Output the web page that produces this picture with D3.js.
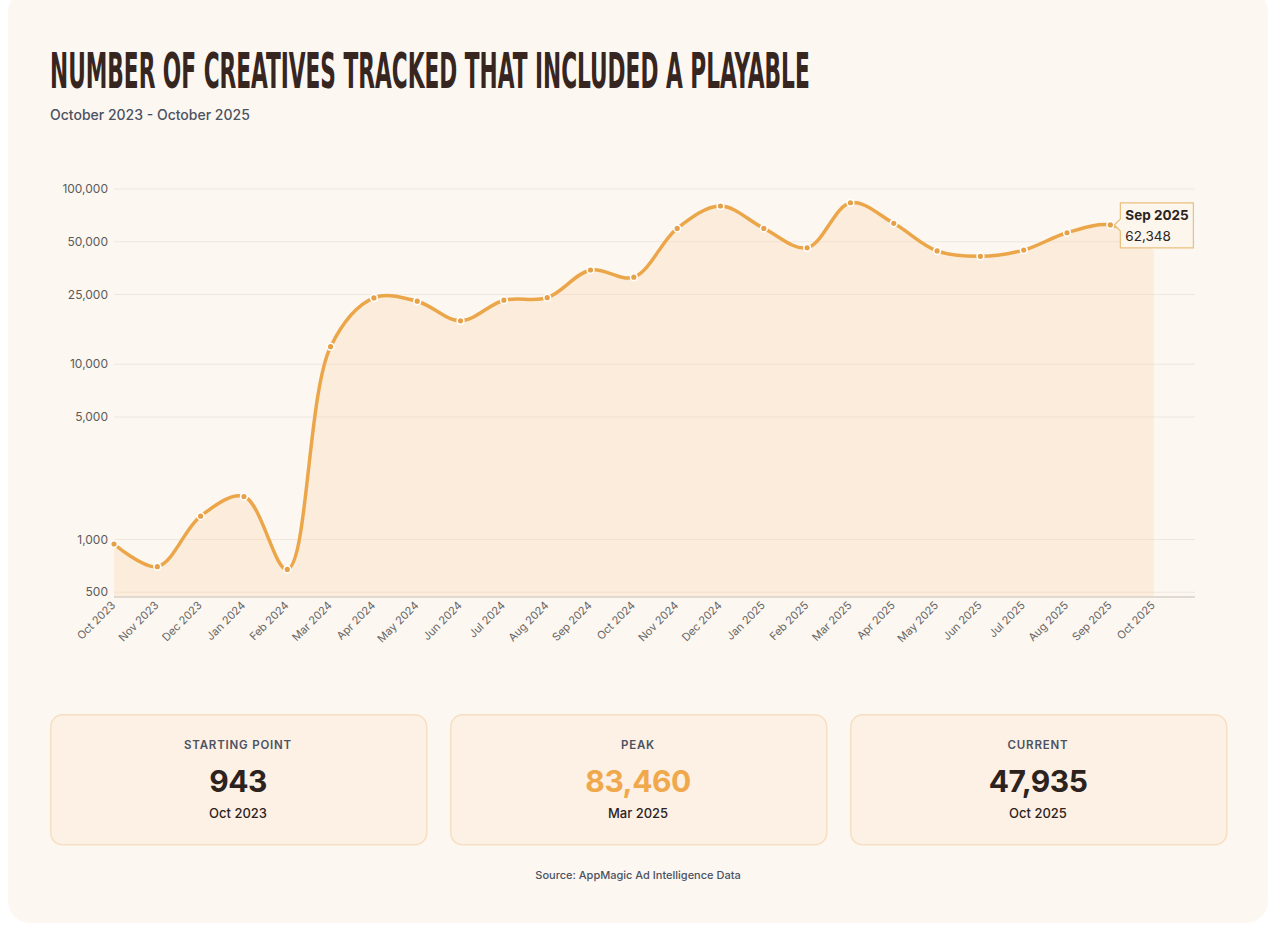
<!DOCTYPE html>
<html>
<head>
<meta charset="utf-8">
<script src="https://cdn.jsdelivr.net/npm/d3@7"></script>
<style>
  body { margin: 0; background: #ffffff; }
  svg { display: block; font-family: Inter, "Noto Sans", sans-serif; }
</style>
</head>
<body>
<script>
// months on the x axis
var months = ["Oct 2023","Nov 2023","Dec 2023","Jan 2024","Feb 2024","Mar 2024","Apr 2024","May 2024",
  "Jun 2024","Jul 2024","Aug 2024","Sep 2024","Oct 2024","Nov 2024","Dec 2024","Jan 2025",
  "Feb 2025","Mar 2025","Apr 2025","May 2025","Jun 2025","Jul 2025","Aug 2025","Sep 2025","Oct 2025"];

// creatives with a playable, per month
var creatives = [943, 700, 1360, 1760, 675, 12600, 23900, 22900,
  17700, 23200, 24000, 34500, 31400, 59600, 80000, 59600,
  46200, 83460, 63700, 44300, 41300, 44800, 56300, 62348, 47935];

var yTicks = [500, 1000, 5000, 10000, 25000, 50000, 100000];

var cardTitles = ["STARTING POINT", "PEAK", "CURRENT"];
var tooltipIndex = 23;

var width = 1280, height = 931;
var fmt = d3.format(",");

var svg = d3.select("body").append("svg").attr("width", width).attr("height", height);

// page card
svg.append("rect").attr("x", 8).attr("y", -10).attr("width", 1260).attr("height", 933)
  .attr("rx", 22).attr("fill", "#fcf7f1");

// title, squeezed to the reference width
var titleG = svg.append("g");
var title = titleG.append("text").attr("x", 0).attr("y", 0)
  .style("font-family", "'Liberation Sans Narrow', 'DejaVu Sans Condensed', sans-serif")
  .style("font-weight", "bold").style("font-size", "50px").attr("fill", "#36261f")
  .text("NUMBER OF CREATIVES TRACKED THAT INCLUDED A PLAYABLE");
var tw = title.node().getComputedTextLength();
titleG.attr("transform", "translate(50,88) scale(" + (760 / tw) + ",1)");

svg.append("text").attr("x", 50).attr("y", 120)
  .style("font-size", "14px").style("font-weight", 500).attr("fill", "#4b5262")
  .text("October 2023 - October 2025");

// scales
var x = d3.scaleLinear().domain([0, months.length]).range([114, 1197]);
var y = d3.scaleLog().domain([470, 100000]).range([597, 189]);

var chart = svg.append("g");

// gridlines
chart.selectAll(".grid").data(yTicks).enter().append("line")
  .attr("x1", 114).attr("x2", 1195)
  .attr("y1", function(d){ return y(d); }).attr("y2", function(d){ return y(d); })
  .attr("stroke", "#efe7de").attr("stroke-width", 1);

// y labels
chart.selectAll(".ylab").data(yTicks).enter().append("text")
  .attr("x", 108).attr("y", function(d){ return y(d); }).attr("dy", "0.35em")
  .attr("text-anchor", "end").style("font-size", "12px").attr("fill", "#5b5b5b")
  .text(function(d){ return fmt(d); });

// area + line
var area = d3.area()
  .x(function(d, i){ return x(i); })
  .y0(597)
  .y1(function(d){ return y(d); })
  .curve(d3.curveCatmullRom.alpha(0.5));

var line = d3.line()
  .x(function(d, i){ return x(i); })
  .y(function(d){ return y(d); })
  .curve(d3.curveCatmullRom.alpha(0.5));

chart.append("path").datum(creatives).attr("d", area).attr("fill", "#f7d3a8").attr("fill-opacity", 0.3);

// x axis line
chart.append("line").attr("x1", 114).attr("x2", 1195).attr("y1", 597).attr("y2", 597)
  .attr("stroke", "#d9d1c9").attr("stroke-width", 1.5);

chart.append("path").datum(creatives).attr("d", line)
  .attr("fill", "none").attr("stroke", "#eca64a").attr("stroke-width", 3.5)
  .attr("stroke-linecap", "round");

chart.selectAll(".pt").data(creatives).enter().append("circle")
  .attr("cx", function(d, i){ return x(i); })
  .attr("cy", function(d){ return y(d); })
  .attr("r", 3.4).attr("fill", "#e6a048").attr("stroke", "#ffffff").attr("stroke-width", 1.6);

// x labels
chart.selectAll(".xlab").data(months).enter().append("text")
  .attr("transform", function(d, i){ return "translate(" + (x(i) + 2) + ",606) rotate(-45)"; })
  .attr("text-anchor", "end").style("font-size", "11px").attr("fill", "#666666")
  .text(function(d){ return d; });

// tooltip for Sep 2025
var tx = x(tooltipIndex), ty = y(creatives[tooltipIndex]);
var tip = svg.append("g").attr("transform", "translate(" + (tx + 10) + "," + (ty - 22) + ")");
tip.append("path")
  .attr("d", "M0,0 H73 V45 H0 V28 L-6,22 L0,16 Z")
  .attr("fill", "#fdf6ed").attr("stroke", "#e9c07e").attr("stroke-width", 1.2);
tip.append("text").attr("x", 5).attr("y", 17).style("font-size", "13.5px").style("font-weight", "bold")
  .attr("fill", "#2b2420").text(months[tooltipIndex]);
tip.append("text").attr("x", 5).attr("y", 38).style("font-size", "13.5px")
  .attr("fill", "#2b2420").text(fmt(creatives[tooltipIndex]));

// summary cards
var peakIdx = d3.maxIndex(creatives);
var last = creatives.length - 1;
var cards = [
  { value: creatives[0], month: months[0], color: "#2d231e" },
  { value: creatives[peakIdx], month: months[peakIdx], color: "#f0a84c" },
  { value: creatives[last], month: months[last], color: "#2d231e" }
];

var card = svg.selectAll(".card").data(cards).enter().append("g")
  .attr("transform", function(d, i){ return "translate(" + (50 + i * 400) + ",714)"; });

card.append("rect").attr("x", 0.75).attr("y", 0.75).attr("width", 376).attr("height", 130)
  .attr("rx", 12).attr("fill", "#fdf0e4").attr("stroke", "#f6dfc2").attr("stroke-width", 1.5);

card.append("text").attr("x", 188).attr("y", 35).attr("text-anchor", "middle")
  .style("font-size", "11.5px").style("font-weight", 600).style("letter-spacing", "0.8px")
  .attr("fill", "#4b5262").text(function(d, i){ return cardTitles[i]; });

card.append("text").attr("x", 188).attr("y", 78).attr("text-anchor", "middle")
  .style("font-size", "30px").style("font-weight", "bold").style("letter-spacing", "-0.5px")
  .attr("fill", function(d){ return d.color; }).text(function(d){ return fmt(d.value); });

card.append("text").attr("x", 188).attr("y", 104).attr("text-anchor", "middle")
  .style("font-size", "13px").style("font-weight", 500)
  .attr("fill", "#2d231e").text(function(d){ return d.month; });

svg.append("text").attr("x", 638).attr("y", 879).attr("text-anchor", "middle")
  .style("font-size", "11px").style("font-weight", 500).attr("fill", "#4b5262")
  .text("Source: AppMagic Ad Intelligence Data");
</script>
</body>
</html>
